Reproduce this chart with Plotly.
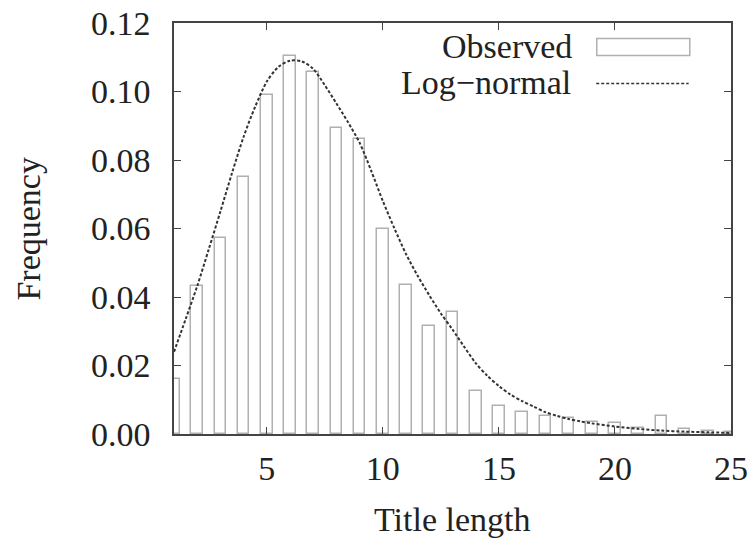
import plotly.graph_objects as go

# observed frequency of each title length
title_length = [1, 2, 3, 4, 5, 6, 7, 8, 9, 10, 11, 12, 13,
                14, 15, 16, 17, 18, 19, 20, 21, 22, 23, 24, 25]
observed = [0.0160, 0.0433, 0.0572, 0.0751, 0.0991, 0.1103, 0.1057, 0.0894, 0.0860,
            0.0600, 0.0436, 0.0315, 0.0355, 0.0127, 0.0082, 0.0063, 0.0053, 0.0046,
            0.0034, 0.0033, 0.0018, 0.0052, 0.0014, 0.0009, 0.0005]

# log-normal fit
fit_x = [1, 1.5, 2, 2.5, 3, 3.5, 4, 4.5, 5, 5.5, 6, 6.5, 7, 7.5, 8, 8.5, 9, 9.5,
         10, 10.5, 11, 11.5, 12, 12.5, 13, 13.5, 14, 14.5, 15, 15.5, 16, 16.5,
         17, 17.5, 18, 18.5, 19, 20, 21, 22, 23, 24, 25]
fit_y = [0.0240, 0.0335, 0.0432, 0.0540, 0.0650, 0.0762, 0.0868, 0.0956, 0.1029,
         0.1072, 0.1090, 0.1088, 0.1066, 0.1018, 0.0965, 0.0910, 0.0850, 0.0768,
         0.0680, 0.0600, 0.0525, 0.0462, 0.0405, 0.0352, 0.0305, 0.0255, 0.0207,
         0.0170, 0.0140, 0.0115, 0.0096, 0.0080, 0.0064, 0.0053, 0.0044, 0.0037,
         0.0031, 0.0022, 0.0015, 0.0010, 0.0007, 0.0005, 0.0003]

x_ticks = [5, 10, 15, 20, 25]
y_ticks = [0.00, 0.02, 0.04, 0.06, 0.08, 0.10, 0.12]

serif = "Liberation Serif, Times New Roman, serif"
axis_color = "#444444"
text_font = dict(family=serif, size=34, color="#222222")

fig = go.Figure(data=[
    go.Bar(name="Observed",
           x=title_length,
           y=observed,
           width=0.5,
           marker=dict(color="white", line=dict(color="#b0b0b0", width=1.5))),
    go.Scatter(name="Log\u2212normal",
               x=fit_x,
               y=fit_y,
               mode="lines",
               line=dict(color="#333333", width=2, dash="3px,2px", shape="spline", smoothing=0.8)),
])

axis_common = dict(showline=True, linecolor=axis_color, linewidth=1.5, mirror="ticks",
                   ticks="inside", ticklen=7, tickcolor=axis_color, tickwidth=1.2,
                   showgrid=False, zeroline=False, automargin=False,
                   ticklabeloverflow="allow", tickfont=text_font)

fig.update_xaxes(range=[1, 25], tickvals=x_ticks, ticklabelstandoff=3, **axis_common)
fig.update_yaxes(range=[0, 0.12], tickvals=y_ticks, tickformat=".2f", ticklabelstandoff=15,
                 **axis_common)

# axis titles
fig.add_annotation(text="Title length", xref="paper", yref="paper", x=0.5, y=-0.207,
                   xanchor="center", yanchor="middle", showarrow=False, font=text_font)
fig.add_annotation(text="Frequency", xref="paper", yref="paper", x=-0.262, y=0.5,
                   textangle=-90, xanchor="center", yanchor="middle", showarrow=False,
                   font=text_font)

# legend drawn by hand: text on the left, key on the right (gnuplot style)
fig.add_annotation(text="Observed", xref="paper", yref="paper", x=0.718, y=0.942,
                   xanchor="right", yanchor="middle", showarrow=False, font=text_font)
fig.add_annotation(text="Log\u2212normal", xref="paper", yref="paper", x=0.716, y=0.856,
                   xanchor="right", yanchor="middle", showarrow=False, font=text_font)
fig.add_shape(type="rect", xref="paper", yref="paper", x0=0.759, x1=0.926, y0=0.921, y1=0.962,
              line=dict(color="#b0b0b0", width=1.5), fillcolor="white")
fig.add_shape(type="line", xref="paper", yref="paper", x0=0.758, x1=0.924, y0=0.853, y1=0.853,
              line=dict(color="#333333", width=1.5, dash="3px,2px"))

fig.update_layout(
    width=755, height=540,
    margin=dict(l=174, r=24, t=23, b=106),
    plot_bgcolor="white",
    paper_bgcolor="white",
    showlegend=False,
    bargap=0,
)

# drop the browser's default body margin so the figure fills the window
fig.write_html("out.html", config={"displayModeBar": False},
               post_script="document.body.style.margin = '0';")
